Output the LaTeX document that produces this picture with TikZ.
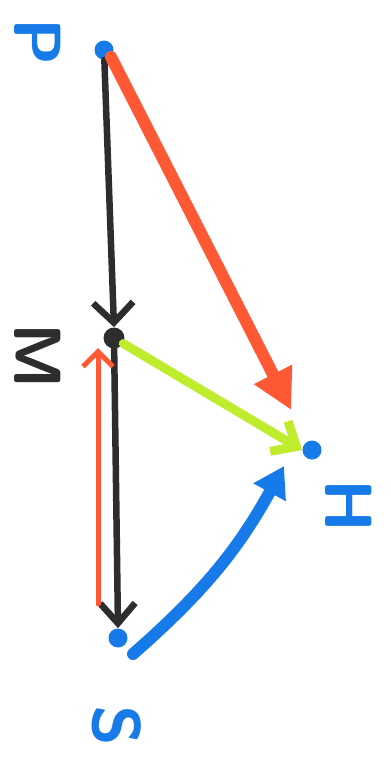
\documentclass[tikz,border=0pt]{standalone}
\usepackage{tikz}
\usetikzlibrary{arrows.meta, positioning, calc}

\definecolor{penblue}{RGB}{22,122,232}
\definecolor{penred}{RGB}{255,88,52}
\definecolor{pengreen}{RGB}{192,236,46}
\definecolor{penblack}{RGB}{45,45,48}

\tikzset{
  dot/.style={circle, fill=penblue, inner sep=0pt, minimum size=3.8mm},
  lbl/.style={font=\sffamily\bfseries\fontsize{38}{38}\selectfont, rotate=-90, inner sep=0pt},
}

\begin{document}
\begin{tikzpicture}[x=0.2mm, y=-0.2mm, line cap=round]
  \useasboundingbox (0,0) rectangle (390,757);

  % points
  \node[dot] (P) at (104,50) {};
  \node[circle, fill=penblack, inner sep=0pt, minimum size=4.2mm] (M) at (114,338) {};
  \node[dot] (H) at (312,450) {};
  \node[dot] (S) at (118,638) {};

  % letters
  \node[lbl, penblue] (lP) at (38,42) {P};
  \node[lbl, penblack] (lM) at (38,356) {M};
  \node[lbl, penblue] (lH) at (349,506) {H};
  \node[lbl, penblue] (lS) at (117,726) {S};

  % black: P -> M -> S
  \draw[penblack, line width=1.3mm, -{Straight Barb[length=4mm, width=8mm]}] (P) -- (M.north);
  \draw[penblack, line width=1.3mm, -{Straight Barb[length=4mm, width=7mm]}] (M) -- (S.north);

  % red: P -> H
  \draw[penred, line width=2.4mm, -{Triangle[length=8mm, width=8mm]}] (P.south east) -- ($(P)!0.9!(H)$) coordinate (rh);

  % green: M -> H
  \draw[pengreen, line width=1.8mm, -{Straight Barb[length=4mm, width=7mm]}] (M) -- (H.west);

  % thin red arrow
  \coordinate (r0) at (98,604);
  \coordinate (r1) at (98,348);
  \draw[penred, line width=1mm, -{Straight Barb[length=3mm, width=6mm]}] (r0) -- (r1);

  % blue arrow S -> H
  \coordinate (b0) at (133,654);
  \coordinate (b1) at (284,466);
  \draw[penblue, line width=2.4mm, -{Triangle[length=6mm, width=7mm]}] (b0) to[bend right=10] (b1);
\end{tikzpicture}
\end{document}
